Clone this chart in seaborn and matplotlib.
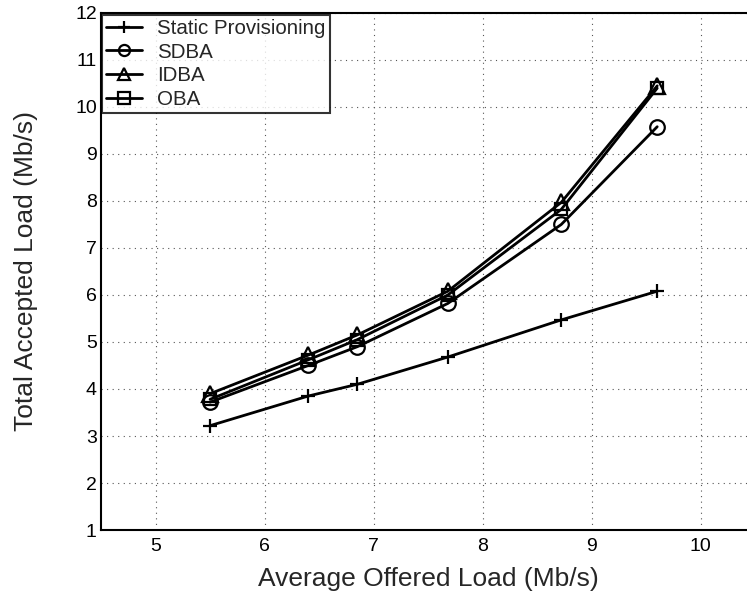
import matplotlib
matplotlib.use("Agg")
import matplotlib.pyplot as plt
import seaborn as sns
import pandas as pd

offered_load = [5.5, 6.4, 6.85, 7.68, 8.72, 9.6]
static_prov = [3.22, 3.85, 4.1, 4.68, 5.47, 6.08]
sdba = [3.72, 4.5, 4.9, 5.82, 7.5, 9.58]
idba = [3.9, 4.72, 5.15, 6.08, 7.97, 10.45]
oba = [3.78, 4.62, 5.05, 6.0, 7.82, 10.4]

series_names = ["Static Provisioning", "SDBA", "IDBA", "OBA"]
series_values = [static_prov, sdba, idba, oba]
markers = ["+", "o", "^", "s"]
msizes = [10, 10.5, 11, 8]

x_ticks = [5, 6, 7, 8, 9, 10]
y_ticks = list(range(1, 13))

sns.set_style("white")
plt.rcParams['font.family'] = ['Liberation Sans', 'DejaVu Sans']

fig = plt.figure(figsize=(7.47, 5.98), dpi=100)
ax = fig.add_axes([0.1352, 0.1137, 0.876, 0.8646])

for name, vals, m, ms in zip(series_names, series_values, markers, msizes):
    df = pd.DataFrame({"x": offered_load, "y": vals})
    sns.lineplot(data=df, x="x", y="y", ax=ax, color="black", linewidth=2,
                 marker=m, markersize=ms, markerfacecolor="none",
                 markeredgecolor="black", markeredgewidth=1.6, label=name)

ax.set_xlim(4.5, 10.5)
ax.set_ylim(1, 12)
ax.set_xticks(x_ticks)
ax.set_yticks(y_ticks)
ax.tick_params(direction="in", length=5, width=1, labelsize=14, colors="black")
ax.tick_params(axis="x", pad=6)
ax.tick_params(axis="y", pad=3)
ax.grid(True, linestyle=(0, (1, 4)), color="#555555", linewidth=0.8)
for s in ax.spines.values():
    s.set_color("black")
    s.set_linewidth(1.5)
ax.spines["right"].set_visible(False)

ax.set_xlabel("Average Offered Load (Mb/s)", fontsize=19)
ax.set_ylabel("Total Accepted Load (Mb/s)", fontsize=19)
ax.xaxis.set_label_coords(0.5, -0.0716)
ax.yaxis.set_label_coords(-0.0963, 0.5)

leg = ax.legend(loc="upper left", fontsize=14.8, frameon=True, fancybox=False,
                borderaxespad=0.0, handlelength=1.75, borderpad=0.2,
                labelspacing=0.22, handletextpad=0.75,
                bbox_to_anchor=(0.001, 0.996))
leg.get_frame().set_edgecolor("black")
leg.get_frame().set_linewidth(1.5)
for h in leg.legend_handles:
    h.set_markersize(8)

fig.savefig("out.png", dpi=100)
